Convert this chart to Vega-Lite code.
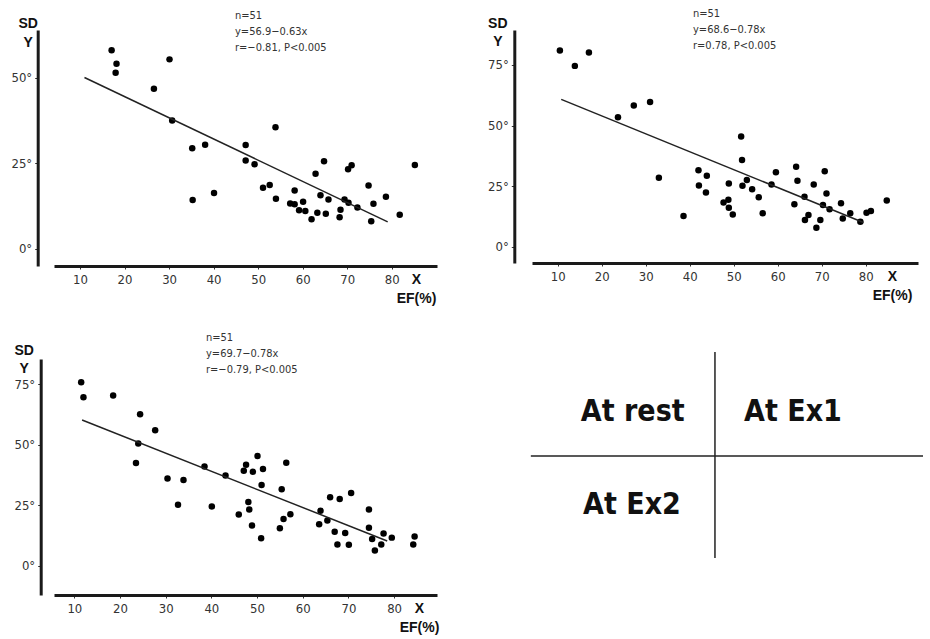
{
  "$schema": "https://vega.github.io/schema/vega-lite/v6.json",
  "background": "white",
  "padding": {"left": 10, "top": 8, "right": 5, "bottom": 5},
  "columns": 2,
  "spacing": {"row": 93, "column": 95},
  "bounds": "flush",
  "config": {
    "view": {"stroke": null},
    "font": "DejaVu Sans Condensed, Liberation Sans, sans-serif",
    "axis": {
      "grid": false,
      "domainColor": "#1a1a1a",
      "domainWidth": 3,
      "tickColor": "#333",
      "tickSize": 3,
      "tickWidth": 1,
      "labelFont": "DejaVu Sans Condensed, Liberation Sans, sans-serif",
      "labelFontSize": 13,
      "labelColor": "#333",
      "titleFont": "Liberation Sans, sans-serif",
      "titleFontWeight": "bold",
      "titleColor": "#111",
      "titleFontSize": 14
    },
    "title": {
      "font": "DejaVu Sans Condensed, Liberation Sans, sans-serif",
      "fontSize": 11,
      "fontWeight": "normal",
      "color": "#333",
      "anchor": "start",
      "frame": "group",
      "lineHeight": 16
    }
  },
  "datasets": {
    "rest": [
      {"ef": 17.1, "sd": 58.1}, {"ef": 18.2, "sd": 54.1}, {"ef": 18.0, "sd": 51.5}, {"ef": 30.1, "sd": 55.4},
      {"ef": 26.6, "sd": 46.8}, {"ef": 30.7, "sd": 37.5}, {"ef": 35.2, "sd": 29.4}, {"ef": 35.3, "sd": 14.2},
      {"ef": 38.1, "sd": 30.4}, {"ef": 40.1, "sd": 16.3}, {"ef": 47.2, "sd": 30.3}, {"ef": 47.2, "sd": 25.8},
      {"ef": 49.2, "sd": 24.7}, {"ef": 53.9, "sd": 35.5}, {"ef": 51.1, "sd": 17.8}, {"ef": 52.6, "sd": 18.6},
      {"ef": 54.0, "sd": 14.6}, {"ef": 57.2, "sd": 13.2}, {"ef": 58.2, "sd": 13.0}, {"ef": 58.2, "sd": 17.0},
      {"ef": 59.2, "sd": 11.2}, {"ef": 60.1, "sd": 13.7}, {"ef": 60.6, "sd": 11.0}, {"ef": 62.0, "sd": 8.6},
      {"ef": 62.9, "sd": 21.9}, {"ef": 63.3, "sd": 10.5}, {"ef": 64.0, "sd": 15.6}, {"ef": 64.8, "sd": 25.6},
      {"ef": 65.2, "sd": 10.2}, {"ef": 65.8, "sd": 14.4}, {"ef": 68.3, "sd": 9.2}, {"ef": 68.5, "sd": 11.4},
      {"ef": 69.4, "sd": 14.4}, {"ef": 70.3, "sd": 13.4}, {"ef": 70.2, "sd": 23.2}, {"ef": 71.0, "sd": 24.4},
      {"ef": 72.3, "sd": 12.0}, {"ef": 74.8, "sd": 18.5}, {"ef": 75.4, "sd": 8.0}, {"ef": 75.9, "sd": 13.1},
      {"ef": 78.7, "sd": 15.2}, {"ef": 81.8, "sd": 9.9}, {"ef": 85.2, "sd": 24.5}
    ],
    "rest_fit": [{"ef": 11.0, "sd": 50.1}, {"ef": 79.1, "sd": 7.8}],
    "ex1": [
      {"ef": 10.5, "sd": 80.9}, {"ef": 13.9, "sd": 74.6}, {"ef": 17.1, "sd": 80.1}, {"ef": 23.7, "sd": 53.4},
      {"ef": 27.3, "sd": 58.3}, {"ef": 31.0, "sd": 59.7}, {"ef": 33.0, "sd": 28.5}, {"ef": 38.6, "sd": 12.7},
      {"ef": 42.0, "sd": 31.6}, {"ef": 42.1, "sd": 25.3}, {"ef": 43.9, "sd": 29.3}, {"ef": 43.7, "sd": 22.4},
      {"ef": 47.7, "sd": 18.3}, {"ef": 48.8, "sd": 19.4}, {"ef": 48.9, "sd": 26.1}, {"ef": 48.9, "sd": 16.1},
      {"ef": 49.8, "sd": 13.3}, {"ef": 51.7, "sd": 45.5}, {"ef": 51.9, "sd": 35.8}, {"ef": 52.0, "sd": 25.2},
      {"ef": 53.0, "sd": 27.5}, {"ef": 54.2, "sd": 23.7}, {"ef": 55.7, "sd": 20.4}, {"ef": 56.6, "sd": 13.8},
      {"ef": 58.6, "sd": 25.7}, {"ef": 59.6, "sd": 30.7}, {"ef": 63.8, "sd": 17.5}, {"ef": 64.2, "sd": 33.0},
      {"ef": 64.5, "sd": 27.2}, {"ef": 66.1, "sd": 20.6}, {"ef": 66.2, "sd": 11.0}, {"ef": 67.0, "sd": 13.1},
      {"ef": 68.2, "sd": 25.7}, {"ef": 68.8, "sd": 7.8}, {"ef": 69.7, "sd": 11.0}, {"ef": 70.3, "sd": 17.2},
      {"ef": 70.7, "sd": 31.1}, {"ef": 71.1, "sd": 22.0}, {"ef": 71.8, "sd": 15.5}, {"ef": 74.4, "sd": 17.9},
      {"ef": 74.8, "sd": 11.7}, {"ef": 76.5, "sd": 13.8}, {"ef": 78.8, "sd": 10.3}, {"ef": 80.2, "sd": 14.0},
      {"ef": 81.2, "sd": 14.7}, {"ef": 84.8, "sd": 19.1}
    ],
    "ex1_fit": [{"ef": 10.8, "sd": 60.8}, {"ef": 79.5, "sd": 10.0}],
    "ex2": [
      {"ef": 11.5, "sd": 75.8}, {"ef": 12.0, "sd": 69.6}, {"ef": 18.5, "sd": 70.3}, {"ef": 24.4, "sd": 62.6},
      {"ef": 24.0, "sd": 50.5}, {"ef": 23.5, "sd": 42.4}, {"ef": 27.7, "sd": 56.0}, {"ef": 30.4, "sd": 36.0},
      {"ef": 32.7, "sd": 25.2}, {"ef": 33.9, "sd": 35.4}, {"ef": 38.5, "sd": 41.0}, {"ef": 40.1, "sd": 24.5},
      {"ef": 43.1, "sd": 37.3}, {"ef": 46.0, "sd": 21.2}, {"ef": 47.1, "sd": 39.2}, {"ef": 47.6, "sd": 41.7},
      {"ef": 48.1, "sd": 26.3}, {"ef": 48.3, "sd": 23.2}, {"ef": 48.9, "sd": 16.6}, {"ef": 49.1, "sd": 38.8},
      {"ef": 50.1, "sd": 45.3}, {"ef": 50.9, "sd": 11.3}, {"ef": 51.0, "sd": 33.3}, {"ef": 51.3, "sd": 40.0},
      {"ef": 55.0, "sd": 15.5}, {"ef": 55.4, "sd": 31.6}, {"ef": 55.8, "sd": 19.3}, {"ef": 56.4, "sd": 42.5},
      {"ef": 57.3, "sd": 21.3}, {"ef": 63.6, "sd": 17.1}, {"ef": 63.9, "sd": 22.7}, {"ef": 65.4, "sd": 18.7},
      {"ef": 66.0, "sd": 28.3}, {"ef": 67.0, "sd": 14.0}, {"ef": 67.6, "sd": 8.8}, {"ef": 68.1, "sd": 27.6},
      {"ef": 69.3, "sd": 13.5}, {"ef": 70.1, "sd": 8.7}, {"ef": 70.6, "sd": 30.0}, {"ef": 74.5, "sd": 23.2},
      {"ef": 74.5, "sd": 15.7}, {"ef": 75.2, "sd": 11.0}, {"ef": 75.8, "sd": 6.3}, {"ef": 77.2, "sd": 8.8},
      {"ef": 77.7, "sd": 13.3}, {"ef": 79.5, "sd": 11.6}, {"ef": 84.2, "sd": 8.8}, {"ef": 84.5, "sd": 12.1}
    ],
    "ex2_fit": [{"ef": 11.7, "sd": 60.2}, {"ef": 78.5, "sd": 10.2}],
    "legend_lines": [
      {"x": 0.474, "x2": 0.474, "y": 1.03, "y2": 0.157},
      {"x": -0.003, "x2": 1.013, "y": 0.589, "y2": 0.589}
    ],
    "legend_text": [
      {"x": 0.261, "y": 0.775, "label": "At rest"},
      {"x": 0.676, "y": 0.775, "label": "At Ex1"},
      {"x": 0.259, "y": 0.381, "label": "At Ex2"}
    ]
  },
  "concat": [
    {
      "width": 383,
      "height": 236,
      "title": {"text": ["n=51", "y=56.9−0.63x", "r=−0.81,  P<0.005"], "dx": 181, "offset": -37},
      "layer": [
        {
          "data": {"name": "rest"},
          "mark": {"type": "circle", "size": 42, "color": "black", "opacity": 1},
          "encoding": {
            "x": {"field": "ef", "type": "quantitative", "scale": {"domain": [4.16, 90.17], "nice": false, "zero": false},
              "axis": {"values": [10, 20, 30, 40, 50, 60, 70, 80], "title": ["X", "EF(%)"], "titleAngle": 0, "titleAlign": "center", "titleBaseline": "alphabetic", "titleX": 362, "titleY": 17, "titleLineHeight": 19, "labelPadding": 4}},
            "y": {"field": "sd", "type": "quantitative", "scale": {"domain": [-5.1, 64], "nice": false, "zero": false},
              "axis": {"values": [0, 25, 50], "labelExpr": "datum.label + '°'", "offset": 16.3, "labelPadding": 3, "title": ["SD", "Y"], "titleAngle": 0, "titleAlign": "center", "titleBaseline": "alphabetic", "titleX": -10, "titleY": -3, "titleLineHeight": 19}}
          }
        },
        {
          "data": {"name": "rest_fit"},
          "mark": {"type": "line", "color": "#222", "strokeWidth": 1.5},
          "encoding": {"x": {"field": "ef", "type": "quantitative"}, "y": {"field": "sd", "type": "quantitative"}}
        }
      ]
    },
    {
      "width": 386,
      "height": 233,
      "title": {"text": ["n=51", "y=68.6−0.78x", "r=0.78,  P<0.005"], "dx": 161, "offset": -35},
      "layer": [
        {
          "data": {"name": "ex1"},
          "mark": {"type": "circle", "size": 42, "color": "black", "opacity": 1},
          "encoding": {
            "x": {"field": "ef", "type": "quantitative", "scale": {"domain": [4.16, 91.9], "nice": false, "zero": false},
              "axis": {"values": [10, 20, 30, 40, 50, 60, 70, 80], "title": ["X", "EF(%)"], "titleAngle": 0, "titleAlign": "center", "titleBaseline": "alphabetic", "titleX": 360, "titleY": 17, "titleLineHeight": 19, "labelPadding": 4}},
            "y": {"field": "sd", "type": "quantitative", "scale": {"domain": [-6.7, 89.4], "nice": false, "zero": false},
              "axis": {"values": [0, 25, 50, 75], "labelExpr": "datum.label + '°'", "offset": 17.7, "labelPadding": 3, "title": ["SD", "Y"], "titleAngle": 0, "titleAlign": "center", "titleBaseline": "alphabetic", "titleX": -17, "titleY": -3, "titleLineHeight": 18}}
          }
        },
        {
          "data": {"name": "ex1_fit"},
          "mark": {"type": "line", "color": "#222", "strokeWidth": 1.5},
          "encoding": {"x": {"field": "ef", "type": "quantitative"}, "y": {"field": "sd", "type": "quantitative"}}
        }
      ]
    },
    {
      "width": 383,
      "height": 236,
      "title": {"text": ["n=51", "y=69.7−0.78x", "r=−0.79,  P<0.005"], "dx": 152, "offset": -32},
      "layer": [
        {
          "data": {"name": "ex2"},
          "mark": {"type": "circle", "size": 42, "color": "black", "opacity": 1},
          "encoding": {
            "x": {"field": "ef", "type": "quantitative", "scale": {"domain": [5.55, 89.4], "nice": false, "zero": false},
              "axis": {"values": [10, 20, 30, 40, 50, 60, 70, 80], "title": ["X", "EF(%)"], "titleAngle": 0, "titleAlign": "center", "titleBaseline": "alphabetic", "titleX": 365, "titleY": 17, "titleLineHeight": 19, "labelPadding": 4}},
            "y": {"field": "sd", "type": "quantitative", "scale": {"domain": [-12.1, 85.4], "nice": false, "zero": false},
              "axis": {"values": [0, 25, 50, 75], "labelExpr": "datum.label + '°'", "offset": 13.3, "labelPadding": 3, "title": ["SD", "Y"], "titleAngle": 0, "titleAlign": "center", "titleBaseline": "alphabetic", "titleX": -17, "titleY": -5, "titleLineHeight": 18}}
          }
        },
        {
          "data": {"name": "ex2_fit"},
          "mark": {"type": "line", "color": "#222", "strokeWidth": 1.5},
          "encoding": {"x": {"field": "ef", "type": "quantitative"}, "y": {"field": "sd", "type": "quantitative"}}
        }
      ]
    },
    {
      "width": 386,
      "height": 236,
      "layer": [
        {
          "data": {"name": "legend_lines"},
          "mark": {"type": "rule", "color": "#222", "strokeWidth": 1.5},
          "encoding": {
            "x": {"field": "x", "type": "quantitative", "scale": {"domain": [0, 1], "nice": false, "zero": false}, "axis": null},
            "x2": {"field": "x2"},
            "y": {"field": "y", "type": "quantitative", "scale": {"domain": [0, 1], "nice": false, "zero": false}, "axis": null},
            "y2": {"field": "y2"}
          }
        },
        {
          "data": {"name": "legend_text"},
          "mark": {"type": "text", "font": "DejaVu Sans Condensed, Liberation Sans, sans-serif", "fontWeight": "bold", "fontSize": 30, "color": "#111", "align": "center", "baseline": "middle"},
          "encoding": {
            "x": {"field": "x", "type": "quantitative"},
            "y": {"field": "y", "type": "quantitative"},
            "text": {"field": "label"}
          }
        }
      ]
    }
  ]
}
